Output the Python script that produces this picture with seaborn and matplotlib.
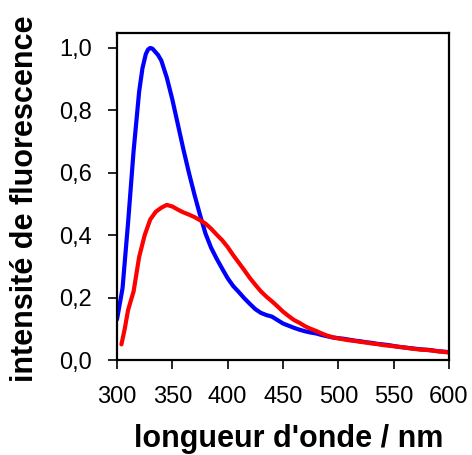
import matplotlib
matplotlib.use("Agg")
import matplotlib.pyplot as plt
from matplotlib.ticker import FuncFormatter
import seaborn as sns
import pandas as pd

# Blue spectrum
blue_x = [300, 305, 310, 315, 320, 323, 326, 328, 330, 332, 334, 337, 340, 345, 350, 355, 360, 365, 370,
          375, 380, 385, 390, 395, 400, 405, 410, 415, 420, 425, 430, 435, 440, 445,
          450, 455, 460, 465, 470, 475, 480, 485, 490, 495, 500, 505, 510, 515, 520,
          525, 530, 535, 540, 545, 550, 555, 560, 565, 570, 575, 580, 585, 590, 595, 600]
blue_y = [0.13, 0.23, 0.44, 0.67, 0.86, 0.935, 0.98, 0.995, 1.0, 0.998, 0.99, 0.978, 0.96, 0.905, 0.835, 0.755, 0.675, 0.60, 0.53,
          0.465, 0.405, 0.36, 0.325, 0.293, 0.262, 0.237, 0.218, 0.198, 0.18, 0.163, 0.151, 0.144, 0.139, 0.128,
          0.117, 0.11, 0.103, 0.097, 0.092, 0.088, 0.085, 0.080, 0.076, 0.072, 0.070, 0.068, 0.065, 0.062, 0.060,
          0.057, 0.055, 0.052, 0.050, 0.048, 0.045, 0.042, 0.040, 0.038, 0.036, 0.034, 0.033, 0.031, 0.028, 0.027, 0.025]

# Red spectrum
red_x = [304, 307, 310, 315, 320, 325, 330, 335, 340, 345, 350, 355, 360, 365, 370,
         375, 380, 385, 390, 395, 400, 405, 410, 415, 420, 425, 430, 435, 440, 445,
         450, 455, 460, 465, 470, 475, 480, 485, 490, 495, 500, 505, 510, 515, 520,
         525, 530, 535, 540, 545, 550, 555, 560, 565, 570, 575, 580, 585, 590, 595, 600]
red_y = [0.05, 0.10, 0.16, 0.22, 0.33, 0.40, 0.45, 0.475, 0.488, 0.497, 0.492, 0.482, 0.473, 0.466, 0.458,
         0.448, 0.437, 0.421, 0.402, 0.384, 0.362, 0.336, 0.312, 0.288, 0.263, 0.241, 0.22, 0.203, 0.188, 0.172,
         0.155, 0.141, 0.128, 0.119, 0.108, 0.100, 0.093, 0.085, 0.078, 0.073, 0.069, 0.066, 0.063, 0.061, 0.058,
         0.056, 0.053, 0.051, 0.048, 0.046, 0.044, 0.042, 0.040, 0.037, 0.035, 0.033, 0.032, 0.030, 0.028, 0.026, 0.024]

x_ticks = [300, 350, 400, 450, 500, 550, 600]
y_ticks = [0.0, 0.2, 0.4, 0.6, 0.8, 1.0]

df = pd.concat([
    pd.DataFrame({"x": blue_x, "y": blue_y, "s": "bleu"}),
    pd.DataFrame({"x": red_x, "y": red_y, "s": "rouge"}),
])

sns.set_style("ticks")
plt.rcParams["font.family"] = ["Liberation Sans", "DejaVu Sans"]
plt.rcParams["text.color"] = "black"
plt.rcParams["axes.labelcolor"] = "black"

fig = plt.figure(figsize=(4.72, 4.55), dpi=100)
ax = fig.add_axes([117 / 472, 1 - 360 / 455, 332 / 472, 327 / 455])

sns.lineplot(data=df, x="x", y="y", hue="s", palette={"bleu": "#0000ff", "rouge": "#ff0000"},
             linewidth=3.0, sort=False, legend=False, ax=ax)

ax.set_xlim(300, 600)
ax.set_ylim(0, 1.048)
ax.set_xticks(x_ticks)
ax.set_yticks(y_ticks)
ax.yaxis.set_major_formatter(FuncFormatter(lambda v, p: f"{v:.1f}".replace(".", ",")))

for s in ax.spines.values():
    s.set_visible(True)
    s.set_linewidth(1.6)
    s.set_color("black")

ax.tick_params(axis="both", direction="out", length=6.5, width=1.2, colors="black",
               labelsize=17)
ax.tick_params(axis="y", pad=11.5)
ax.tick_params(axis="x", pad=12)

ax.set_xlabel("longueur d'onde / nm", fontsize=22, fontweight="bold", va="baseline", color="black")
ax.xaxis.set_label_coords(0.517, (360 - 447) / 327)
ax.set_ylabel("intensité de fluorescence", fontsize=22, fontweight="bold", va="baseline", color="black")
ax.yaxis.set_label_coords((33 - 117) / 332, (360 - 199) / 327)

fig.savefig("out.png", dpi=100)
